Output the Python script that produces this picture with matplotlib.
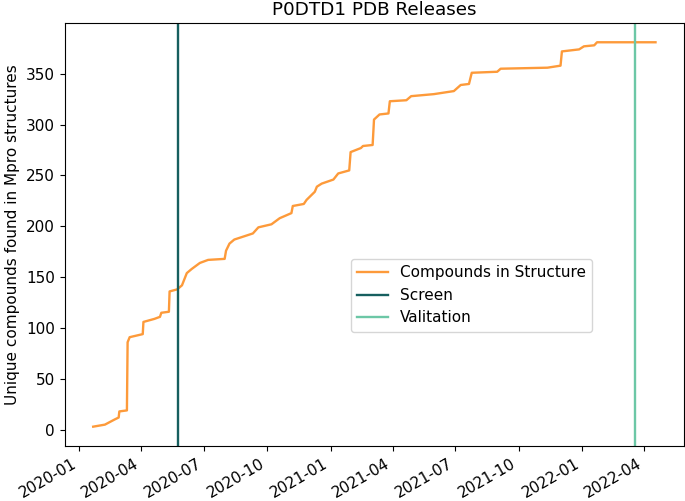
import matplotlib
matplotlib.use("Agg")
import matplotlib.pyplot as plt
import matplotlib.dates as mdates
import pandas as pd

# cumulative unique compounds seen in released Mpro structures
release_dates = [
    "2020-01-22", "2020-02-08", "2020-02-22", "2020-02-28", "2020-02-29",
    "2020-03-11", "2020-03-12", "2020-03-15", "2020-04-03", "2020-04-04",
    "2020-04-20", "2020-04-28", "2020-04-30", "2020-05-11", "2020-05-12",
    "2020-05-23", "2020-05-30", "2020-06-06", "2020-06-13", "2020-06-25",
    "2020-07-07", "2020-07-31", "2020-08-02", "2020-08-07", "2020-08-14",
    "2020-09-10", "2020-09-18", "2020-10-07", "2020-10-19", "2020-11-05",
    "2020-11-07", "2020-11-23", "2020-11-27", "2020-12-09", "2020-12-12",
    "2020-12-19", "2021-01-05", "2021-01-12", "2021-01-28", "2021-01-30",
    "2021-02-14", "2021-02-17", "2021-03-03", "2021-03-05", "2021-03-13",
    "2021-03-26", "2021-03-28", "2021-04-21", "2021-04-28", "2021-05-31",
    "2021-06-29", "2021-07-04", "2021-07-09", "2021-07-21", "2021-07-25",
    "2021-08-31", "2021-09-05", "2021-11-12", "2021-12-01", "2021-12-03",
    "2021-12-28", "2022-01-04", "2022-01-19", "2022-01-23", "2022-04-18",
]
compound_counts = [
    3, 5, 10, 12, 18,
    19, 86, 91, 94, 106,
    109, 111, 115, 116, 136,
    138, 142, 154, 158, 164,
    167, 168, 176, 183, 187,
    193, 199, 202, 208, 213,
    220, 222, 226, 234, 239,
    242, 246, 252, 255, 273,
    277, 279, 280, 305, 310,
    311, 323, 324, 328, 330,
    333, 336, 339, 340, 351,
    352, 355, 356, 358, 372,
    374, 377, 378, 381, 381,
]

SCREEN_DATE = "2020-05-24"
VALIDATION_DATE = "2022-03-19"

plt.rcParams["font.size"] = 11

fig, ax = plt.subplots(figsize=(6.85, 5.01), dpi=100)
ax.plot(pd.to_datetime(release_dates), compound_counts, color="#fd9a3a",
        linewidth=1.7, label="Compounds in Structure")
ax.axvline(pd.to_datetime(SCREEN_DATE), color="#165f5f", linewidth=1.7, label="Screen")
ax.axvline(pd.to_datetime(VALIDATION_DATE), color="#6cc7a6", linewidth=1.7, label="Valitation")

ax.xaxis.set_major_locator(mdates.MonthLocator(bymonth=[1, 4, 7, 10]))
ax.xaxis.set_major_formatter(mdates.DateFormatter("%Y-%m"))
ax.tick_params(length=3.9)
fig.autofmt_xdate()

ax.set_title("P0DTD1 PDB Releases")
ax.set_ylabel("Unique compounds found in Mpro structures")
ax.legend(loc="center", bbox_to_anchor=(0.657, 0.356))

fig.subplots_adjust(left=0.095, right=0.998, bottom=0.11, top=0.954)
fig.savefig("out.png", dpi=100)
